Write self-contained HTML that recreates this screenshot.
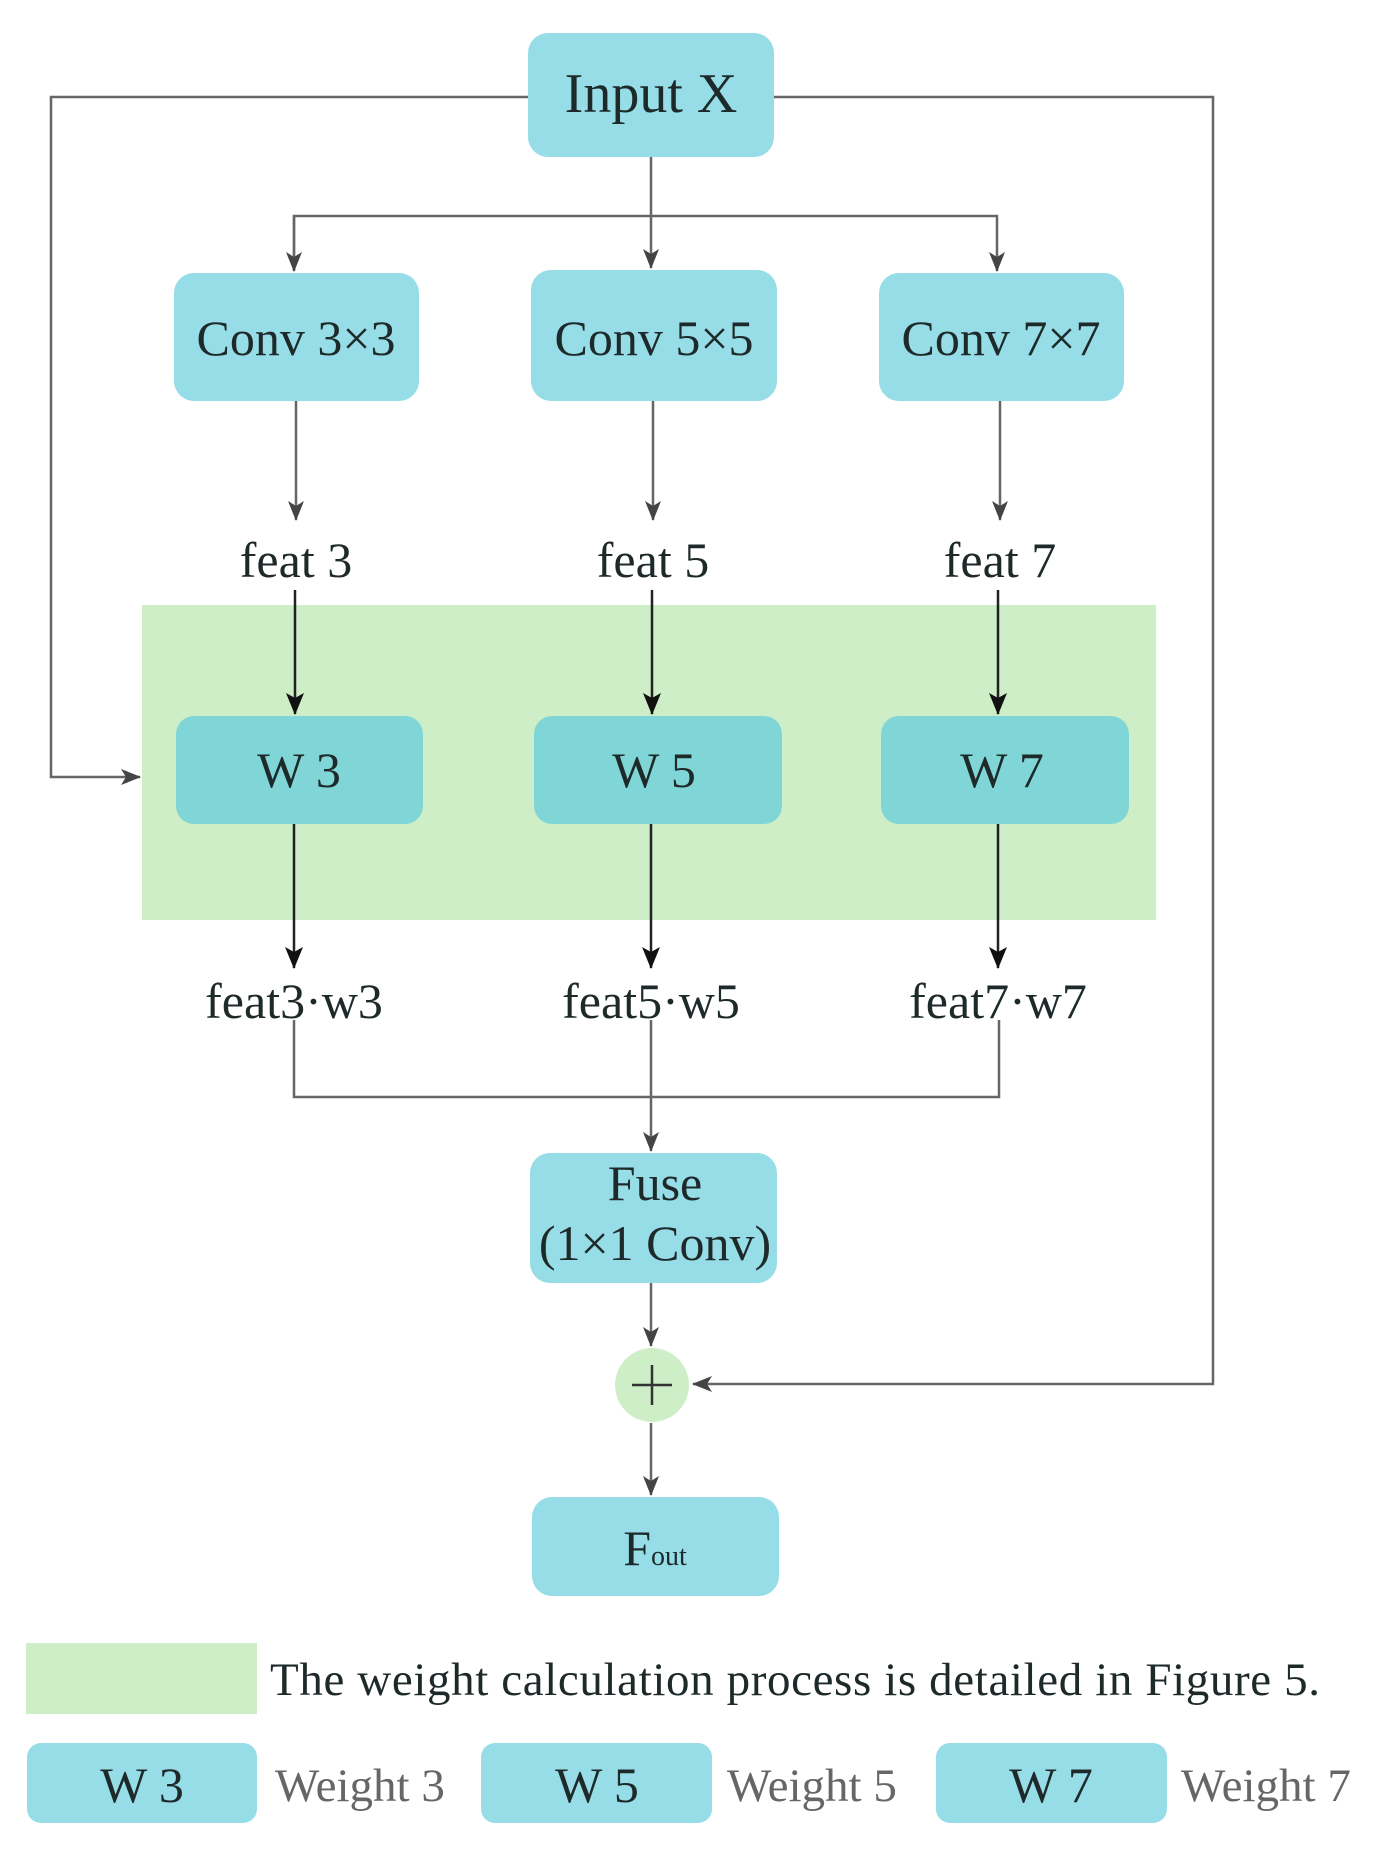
<!DOCTYPE html>
<html><head><meta charset="utf-8"><style>body{margin:0;background:#fff}svg{display:block}text{font-family:"Liberation Serif",serif;fill:#1e2a2a}</style></head>
<body>
<svg width="1383" height="1874" viewBox="0 0 1383 1874" xmlns="http://www.w3.org/2000/svg">
<defs>
<marker id="a" markerWidth="20" markerHeight="16" refX="19" refY="8" orient="auto" markerUnits="userSpaceOnUse"><path d="M0,0 L20,8 L0,16 L5,8 Z" fill="#444"/></marker>
<marker id="b" markerWidth="22" markerHeight="18" refX="21" refY="9" orient="auto" markerUnits="userSpaceOnUse"><path d="M0,0 L22,9 L0,18 L5,9 Z" fill="#111"/></marker>
</defs>
<rect x="142" y="605" width="1014" height="315" fill="#cdeec6"/>
<g stroke="#666" stroke-width="2.5" fill="none">
<polyline points="528,97 51,97 51,777 140,777" marker-end="url(#a)"/>
<polyline points="774,97 1213,97 1213,1384 693,1384" marker-end="url(#a)"/>
<line x1="651" y1="157" x2="651" y2="268" marker-end="url(#a)"/>
<polyline points="294,270 294,216 997,216 997,271" marker-end="url(#a)"/>
<line x1="294" y1="216" x2="294" y2="271" marker-end="url(#a)"/>
<line x1="296" y1="401" x2="296" y2="520" marker-end="url(#a)"/>
<line x1="653" y1="401" x2="653" y2="520" marker-end="url(#a)"/>
<line x1="1000" y1="401" x2="1000" y2="520" marker-end="url(#a)"/>
<polyline points="294,1020 294,1097 999,1097 999,1020"/>
<line x1="651" y1="1020" x2="651" y2="1151" marker-end="url(#a)"/>
<line x1="651" y1="1283" x2="651" y2="1346" marker-end="url(#a)"/>
<line x1="651" y1="1423" x2="651" y2="1495" marker-end="url(#a)"/>
</g>
<g stroke="#222" stroke-width="2.5" fill="none">
<line x1="295" y1="590" x2="295" y2="714" marker-end="url(#b)"/>
<line x1="652" y1="590" x2="652" y2="714" marker-end="url(#b)"/>
<line x1="998" y1="590" x2="998" y2="714" marker-end="url(#b)"/>
<line x1="294" y1="824" x2="294" y2="968" marker-end="url(#b)"/>
<line x1="651" y1="824" x2="651" y2="968" marker-end="url(#b)"/>
<line x1="998" y1="824" x2="998" y2="968" marker-end="url(#b)"/>
</g>
<g fill="#96dde8">
<rect x="528" y="33" width="246" height="124" rx="20"/>
<rect x="174" y="273" width="245" height="128" rx="20"/>
<rect x="531" y="270" width="246" height="131" rx="20"/>
<rect x="879" y="273" width="245" height="128" rx="20"/>
<rect x="530" y="1153" width="247" height="130" rx="20"/>
<rect x="532" y="1497" width="247" height="99" rx="20"/>
<rect x="27" y="1743" width="230" height="80" rx="14"/>
<rect x="481" y="1743" width="231" height="80" rx="14"/>
<rect x="936" y="1743" width="231" height="80" rx="14"/>
</g>
<g fill="#80d6d6">
<rect x="176" y="716" width="247" height="108" rx="18"/>
<rect x="534" y="716" width="248" height="108" rx="18"/>
<rect x="881" y="716" width="248" height="108" rx="18"/>
</g>
<circle cx="652" cy="1385" r="37" fill="#cdeec6"/>
<path d="M632,1385 H672 M652,1365 V1405" stroke="#333" stroke-width="2.5"/>
<rect x="26" y="1643" width="231" height="71" fill="#cdeec6"/>
<g text-anchor="middle" font-size="50">
<text x="651" y="112" font-size="56">Input X</text>
<text x="296" y="355">Conv 3×3</text>
<text x="654" y="355">Conv 5×5</text>
<text x="1001" y="355">Conv 7×7</text>
<text x="296" y="577" fill="#000">feat 3</text>
<text x="653" y="577" fill="#000">feat 5</text>
<text x="1000" y="577" fill="#000">feat 7</text>
<text x="299" y="787" fill="#000">W 3</text>
<text x="654" y="787" fill="#000">W 5</text>
<text x="1002" y="787" fill="#000">W 7</text>
<text x="294" y="1018" fill="#000">feat3·w3</text>
<text x="651" y="1018" fill="#000">feat5·w5</text>
<text x="998" y="1018" fill="#000">feat7·w7</text>
<text x="655" y="1200">Fuse</text>
<text x="655" y="1260">(1×1 Conv)</text>
<text x="655" y="1565">F<tspan font-size="28">out</tspan></text>
<text x="142" y="1802">W 3</text>
<text x="597" y="1802">W 5</text>
<text x="1051" y="1802">W 7</text>
</g>
<text x="270" y="1695" font-size="47" fill="#000" textLength="1050">The weight calculation process is detailed in Figure 5.</text>
<g font-size="47">
<text x="275" y="1801" style="fill:#666">Weight 3</text>
<text x="727" y="1801" style="fill:#666">Weight 5</text>
<text x="1181" y="1801" style="fill:#666">Weight 7</text>
</g>
</svg>
</body></html>
